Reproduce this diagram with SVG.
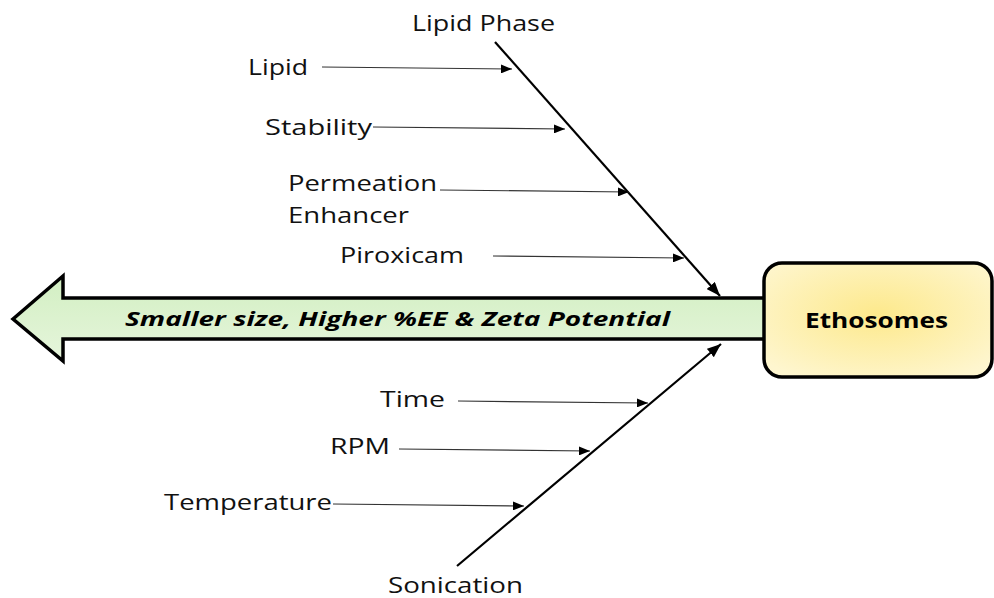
<svg xmlns="http://www.w3.org/2000/svg" width="994" height="598" viewBox="0 0 994 598">
  <style>
    .lbl { font-family: "Open Sans", "Liberation Sans", sans-serif; font-size: 22px; fill: #111; }
    .thin { stroke: #333; stroke-width: 1.2; fill: none; }
    .bone { stroke: #000; stroke-width: 2.2; fill: none; }
  </style>
  <defs>
    <marker id="ah-small" markerUnits="userSpaceOnUse" markerWidth="11" markerHeight="9" viewBox="0 0 11 9" refX="11" refY="4.5" orient="auto">
      <path d="M0,0 L11,4.5 L0,9 z" fill="#000"/>
    </marker>
    <marker id="ah-big" markerUnits="userSpaceOnUse" markerWidth="14" markerHeight="11" viewBox="0 0 14 11" refX="14" refY="5.5" orient="auto">
      <path d="M0,0 L14,5.5 L0,11 z" fill="#000"/>
    </marker>
    <linearGradient id="gArrow" x1="0" y1="0" x2="0" y2="1">
      <stop offset="0" stop-color="#d2efc2"/>
      <stop offset="1" stop-color="#e6f5dc"/>
    </linearGradient>
    <radialGradient id="gBox" cx="0.5" cy="0.45" r="0.65">
      <stop offset="0" stop-color="#fde98c"/>
      <stop offset="1" stop-color="#fef6cf"/>
    </radialGradient>
  </defs>

  <g id="result-arrow">
    <polygon points="13,319 63,276 63,298 766,298 766,339 63,339 63,361" fill="url(#gArrow)" stroke="#000" stroke-width="3.5" stroke-linejoin="miter"/>
    <text x="125" y="326" font-family="'Open Sans', 'Liberation Sans', sans-serif" font-size="20" font-weight="bold" font-style="italic" fill="#000" textLength="545" lengthAdjust="spacingAndGlyphs">Smaller size, Higher %EE &amp; Zeta Potential</text>
  </g>

  <g id="ethosomes">
    <rect x="764" y="263" width="228" height="114" rx="18" ry="18" fill="url(#gBox)" stroke="#000" stroke-width="3.5"/>
    <text x="805" y="328" font-family="'Open Sans', 'Liberation Sans', sans-serif" font-size="21" font-weight="bold" fill="#000" textLength="143" lengthAdjust="spacingAndGlyphs">Ethosomes</text>
  </g>

  <g id="connectors">
    <line class="bone" x1="495" y1="42" x2="720" y2="296" marker-end="url(#ah-big)"/>
    <line class="bone" x1="457" y1="566" x2="721" y2="344" marker-end="url(#ah-big)"/>
    <line class="thin" x1="322" y1="67" x2="512" y2="69" marker-end="url(#ah-small)"/>
    <line class="thin" x1="373" y1="127" x2="565" y2="129" marker-end="url(#ah-small)"/>
    <line class="thin" x1="440" y1="190" x2="629" y2="192" marker-end="url(#ah-small)"/>
    <line class="thin" x1="493" y1="256" x2="684" y2="258" marker-end="url(#ah-small)"/>
    <line class="thin" x1="458" y1="401" x2="648" y2="403" marker-end="url(#ah-small)"/>
    <line class="thin" x1="399" y1="449" x2="590" y2="451" marker-end="url(#ah-small)"/>
    <line class="thin" x1="333" y1="504" x2="524" y2="506" marker-end="url(#ah-small)"/>
  </g>

  <g id="lipid-phase"><text class="lbl" x="412" y="31" textLength="143" lengthAdjust="spacingAndGlyphs">Lipid Phase</text></g>
  <g id="lipid"><text class="lbl" x="248" y="75" textLength="60" lengthAdjust="spacingAndGlyphs">Lipid</text></g>
  <g id="stability"><text class="lbl" x="265" y="135" textLength="107" lengthAdjust="spacingAndGlyphs">Stability</text></g>
  <g id="permeation-enhancer">
    <text class="lbl" x="288" y="191" textLength="149" lengthAdjust="spacingAndGlyphs">Permeation</text>
    <text class="lbl" x="288" y="223" textLength="121" lengthAdjust="spacingAndGlyphs">Enhancer</text>
  </g>
  <g id="piroxicam"><text class="lbl" x="340" y="263" textLength="124" lengthAdjust="spacingAndGlyphs">Piroxicam</text></g>
  <g id="time"><text class="lbl" x="380" y="407" textLength="65" lengthAdjust="spacingAndGlyphs">Time</text></g>
  <g id="rpm"><text class="lbl" x="330" y="454" textLength="60" lengthAdjust="spacingAndGlyphs">RPM</text></g>
  <g id="temperature"><text class="lbl" x="164" y="510" textLength="168" lengthAdjust="spacingAndGlyphs">Temperature</text></g>
  <g id="sonication"><text class="lbl" x="388" y="593" textLength="135" lengthAdjust="spacingAndGlyphs">Sonication</text></g>
</svg>
